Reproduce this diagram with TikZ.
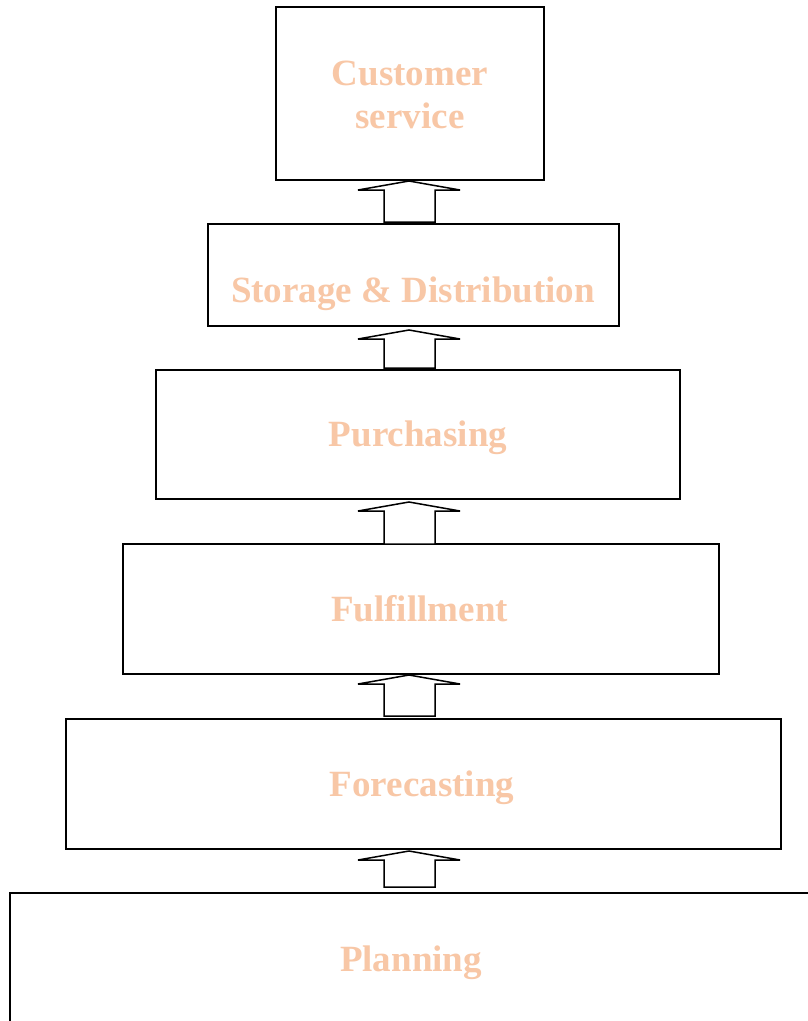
\documentclass[tikz,border=0pt]{standalone}
\usepackage{fontspec}
\setmainfont{Liberation Serif}
\usetikzlibrary{calc}
\definecolor{peach}{RGB}{248,199,166}
\tikzset{
  box/.style={draw=black, line width=1.8pt, rectangle, inner sep=0pt},
  lbl/.style={anchor=base, text=peach, inner sep=0pt, font=\bfseries\fontsize{37}{43}\selectfont},
  barrow/.style={draw=black, line width=1.5pt, line join=miter, fill=white}
}
\newcommand{\blockarrow}[2]{%
  \draw[barrow] let \p1=(#1), \p2=(#2) in
    (\x1,\y1) -- (\x1+51pt,\y1-9pt) -- (\x1+26pt,\y1-9pt) -- (\x1+26pt,\y2)
    -- (\x1-25pt,\y2) -- (\x1-25pt,\y1-9pt) -- (\x1-51pt,\y1-9pt) -- cycle;}
\begin{document}
\begin{tikzpicture}[x=1pt,y=-1pt]
\useasboundingbox (0,0) rectangle (808,1021);
\clip (0,0) rectangle (808,1021);
\fill[white] (0,0) rectangle (808,1021);
% boxes
\node[box, minimum width=268pt, minimum height=173pt] (b1) at (410,93.5) {};
\node[box, minimum width=411pt, minimum height=102pt] (b2) at (413.5,275) {};
\node[box, minimum width=524pt, minimum height=129pt] (b3) at (418,434.5) {};
\node[box, minimum width=596pt, minimum height=130pt] (b4) at (421,609) {};
\node[box, minimum width=715pt, minimum height=130pt] (b5) at (423.5,784) {};
\node[box, minimum width=820pt, minimum height=147pt] (b6) at (420,966.5) {};
% labels
\node[lbl] (t1a) at (410,85) {Customer};
\node[lbl] (t1b) at (410,128) {service};
\node[lbl] (t2) at (413,302) {Storage \& Distribution};
\node[lbl] (t3) at (418,446) {Purchasing};
\node[lbl] (t4) at (419.5,621) {Fulfillment};
\node[lbl] (t5) at (422,796) {Forecasting};
\node[lbl] (t6) at (411,971) {Planning};
% arrow anchor points
\coordinate (a1t) at (409,181); \coordinate (a1b) at (409,222);
\coordinate (a2t) at (409,330); \coordinate (a2b) at (409,368);
\coordinate (a3t) at (409,502); \coordinate (a3b) at (409,544);
\coordinate (a4t) at (409,675); \coordinate (a4b) at (409,716);
\coordinate (a5t) at (409,851); \coordinate (a5b) at (409,887);
\blockarrow{a1t}{a1b}
\blockarrow{a2t}{a2b}
\blockarrow{a3t}{a3b}
\blockarrow{a4t}{a4b}
\blockarrow{a5t}{a5b}
\end{tikzpicture}
\end{document}
